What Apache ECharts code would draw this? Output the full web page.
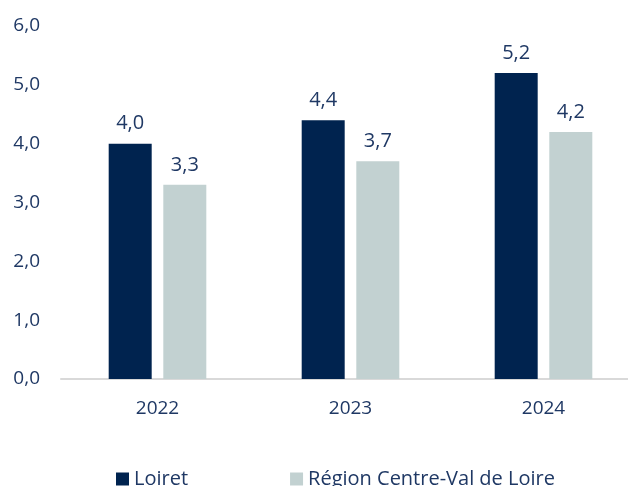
<!DOCTYPE html>
<html>
<head>
<meta charset="utf-8">
<script src="https://cdn.jsdelivr.net/npm/echarts@6/dist/echarts.min.js"></script>
<style>
  html, body { margin: 0; padding: 0; background: #fff; }
  #chart { width: 628px; height: 486px; }
</style>
</head>
<body>
<div id="chart"></div>
<script>
const years = ["2022", "2023", "2024"];
const loiret = [4.0, 4.4, 5.2];
const region = [3.3, 3.7, 4.2];
const seriesNames = ["Loiret", "Région Centre-Val de Loire"];

const textColor = "#1F3864";
const fontFamily = "'Open Sans', 'Noto Sans', sans-serif";
const fmt = (v) => v.toFixed(1).replace(".", ",");

const chart = echarts.init(document.getElementById("chart"));

chart.setOption({
  animation: false,
  textStyle: { fontFamily: fontFamily },
  grid: {
    left: 61,
    top: 26,
    width: 579,
    height: 353,
    containLabel: false,
    outerBoundsMode: "none",
  },
  legend: {
    top: 464,
    left: 111,
    itemWidth: 13,
    itemHeight: 13,
    itemGap: 102,
    icon: "rect",
    data: seriesNames,
    textStyle: { color: textColor, fontSize: 20, fontFamily: fontFamily },
  },
  xAxis: {
    type: "category",
    data: years,
    axisLine: { lineStyle: { color: "#D9D9D9", width: 2 } },
    axisTick: { show: false },
    axisLabel: { color: textColor, fontSize: 19, margin: 20 },
  },
  yAxis: {
    type: "value",
    min: 0,
    max: 6,
    interval: 1,
    splitLine: { show: false },
    axisLine: { show: false },
    axisTick: { show: false },
    axisLabel: {
      color: textColor,
      fontSize: 19,
      margin: 21,
      formatter: (v) => fmt(v),
    },
  },
  series: [
    {
      name: seriesNames[0],
      type: "bar",
      data: loiret,
      barWidth: 43,
      barGap: "27%",
      itemStyle: { color: "#00234F" },
      label: {
        show: true,
        position: "top",
        distance: 10,
        color: textColor,
        fontSize: 20,
        formatter: (p) => fmt(p.value),
      },
    },
    {
      name: seriesNames[1],
      type: "bar",
      data: region,
      barWidth: 43,
      barGap: "27%",
      itemStyle: { color: "#C2D1D1" },
      label: {
        show: true,
        position: "top",
        distance: 10,
        color: textColor,
        fontSize: 20,
        formatter: (p) => fmt(p.value),
      },
    },
  ],
});
</script>
</body>
</html>
